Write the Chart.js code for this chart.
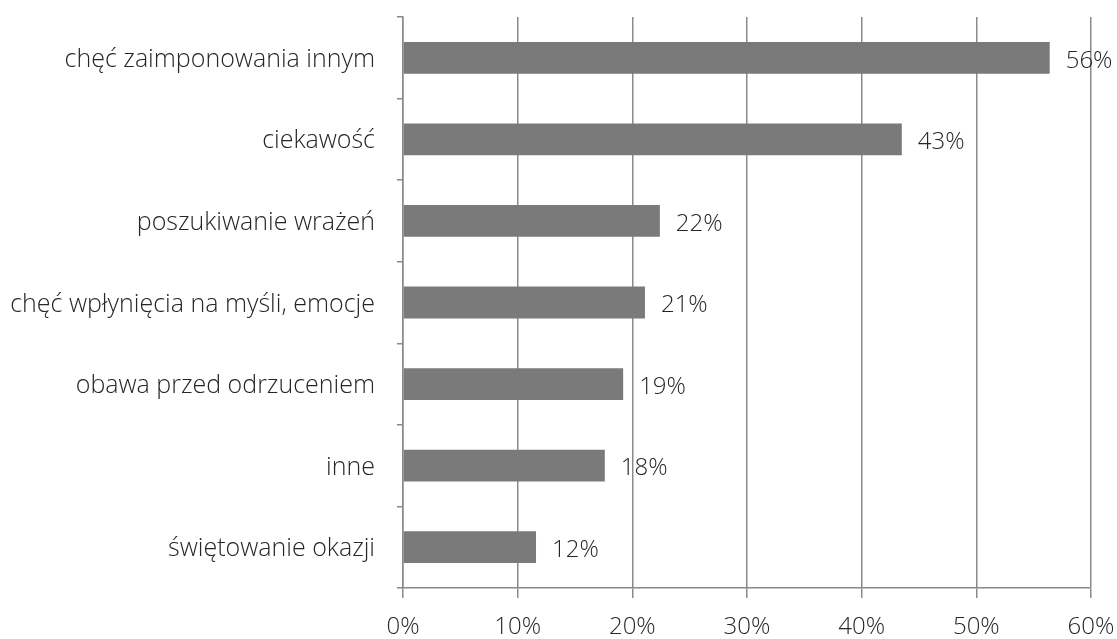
<!DOCTYPE html>
<html>
<head>
<meta charset="utf-8">
<script src="https://cdn.jsdelivr.net/npm/chart.js@4"></script>
<style>
    html, body { margin: 0; padding: 0; background: #fff; }
    #wrap { width: 1117px; height: 639px; }
</style>
</head>
<body>
<div id="wrap"><canvas id="chart" width="1117" height="639"></canvas></div>
<script>
// 데이터
const categories = [
    'chęć zaimponowania innym',
    'ciekawość',
    'poszukiwanie wrażeń',
    'chęć wpłynięcia na myśli, emocje',
    'obawa przed odrzuceniem',
    'inne',
    'świętowanie okazji'
];
const values = [56.4, 43.5, 22.4, 21.1, 19.2, 17.6, 11.6];
const valueLabels = ['56%', '43%', '22%', '21%', '19%', '18%', '12%'];
const xTicks = [0, 10, 20, 30, 40, 50, 60];

const FONT = "'Open Sans', 'Segoe UI', sans-serif";
const TEXT = '#262626';
const LINE = '#8a8a8a';

// 막대 끝에 값 표시
const valueLabelPlugin = {
    id: 'valueLabels',
    afterDatasetsDraw(chart) {
        const ctx = chart.ctx;
        const meta = chart.getDatasetMeta(0);
        ctx.save();
        ctx.font = '300 24px ' + FONT;
        ctx.fillStyle = TEXT;
        ctx.textAlign = 'left';
        ctx.textBaseline = 'middle';
        meta.data.forEach((bar, i) => {
            ctx.fillText(valueLabels[i], bar.x + 16, bar.y + 3);
        });
        ctx.restore();
    }
};

new Chart(document.getElementById('chart'), {
    type: 'bar',
    data: {
        labels: categories,
        datasets: [{
            data: values,
            backgroundColor: '#7a7a7a',
            borderWidth: 0,
            categoryPercentage: 1,
            barPercentage: 0.39
        }]
    },
    options: {
        indexAxis: 'y',
        responsive: false,
        animation: false,
        layout: { padding: { top: 17, right: 26, left: 0, bottom: 0 } },
        plugins: {
            legend: { display: false },
            tooltip: { enabled: false }
        },
        scales: {
            x: {
                min: 0,
                max: 60,
                afterBuildTicks: (scale) => { scale.ticks = xTicks.map(v => ({ value: v })); },
                afterFit: (scale) => {
                    scale.height = 51;
                    scale.paddingLeft = 0;
                    scale.paddingRight = 0;
                },
                grid: {
                    color: LINE,
                    lineWidth: 1.5,
                    tickLength: 10,
                    drawTicks: true
                },
                border: { display: true, color: LINE, width: 1.5 },
                ticks: {
                    callback: v => v + '%',
                    font: { family: FONT, size: 24, weight: 300 },
                    color: TEXT,
                    padding: 15,
                    maxRotation: 0
                }
            },
            y: {
                afterFit: (scale) => {
                    scale.width = 403;
                    scale.paddingTop = 0;
                    scale.paddingBottom = 0;
                },
                grid: {
                    drawOnChartArea: false,
                    color: LINE,
                    lineWidth: 1.5,
                    tickLength: 6,
                    offset: true
                },
                border: { display: true, color: LINE, width: 1.5 },
                ticks: {
                    font: { family: FONT, size: 25, weight: 300 },
                    color: TEXT,
                    padding: 22,
                    labelOffset: 2
                }
            }
        }
    },
    plugins: [valueLabelPlugin]
});
</script>
</body>
</html>
